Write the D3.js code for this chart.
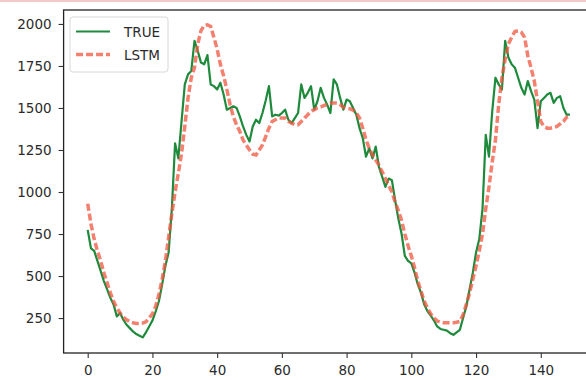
<!DOCTYPE html>
<html>
<head>
<meta charset="utf-8">
<script src="https://cdn.jsdelivr.net/npm/d3@7"></script>
<style>
  body { margin: 0; background: #fff; }
  svg { display: block; font-family: "DejaVu Sans", sans-serif; }
</style>
</head>
<body>
<div id="chart"></div>
<script>
// values, one per time step (0..149)
const trueValues = [
  775, 665, 650, 590, 530, 470, 420, 370, 330, 260,
  280, 240, 210, 190, 170, 155, 145, 135, 165, 200,
  235, 290, 350, 450, 560, 640, 900, 1290, 1200, 1420,
  1640, 1700, 1720, 1900, 1840, 1770, 1760, 1815, 1640, 1630,
  1610, 1650, 1580, 1490, 1500, 1510, 1500, 1450, 1390, 1340,
  1300, 1390, 1430, 1410, 1470, 1545, 1630, 1450, 1460, 1455,
  1470, 1490, 1430, 1410, 1440, 1470, 1640, 1560, 1590, 1630,
  1490, 1540, 1620, 1560, 1520, 1470, 1670, 1640, 1560, 1490,
  1550, 1540, 1500, 1460, 1380, 1320, 1210, 1260, 1200, 1270,
  1150, 1090, 1030, 1080, 1070, 950, 840, 750, 620, 590,
  575, 520, 450, 400, 330, 290, 265, 235, 200, 185,
  180, 175, 160, 150, 165, 180, 250, 320, 420, 520,
  640, 720, 900, 1340, 1210, 1480, 1680, 1640, 1610, 1900,
  1800, 1760, 1740, 1680, 1620, 1580, 1660, 1600, 1550, 1380,
  1540, 1560, 1580, 1590, 1530, 1560, 1570, 1500, 1460, 1460
];
const lstmValues = [
  930, 810, 720, 650, 590, 520, 460, 400, 350, 310,
  280, 255, 240, 228, 222, 218, 218, 220, 228, 250,
  275, 320, 390, 480, 590, 730, 870, 1000, 1110, 1230,
  1390, 1560, 1680, 1740, 1880, 1960, 1990, 1995, 1985, 1920,
  1850, 1760, 1690, 1610, 1520, 1450, 1400, 1360, 1310, 1280,
  1250, 1225, 1220, 1250, 1280, 1330, 1380, 1420, 1430, 1440,
  1440, 1440, 1420, 1410, 1400, 1400, 1420, 1440, 1460, 1480,
  1490, 1500, 1505, 1515, 1520, 1528, 1530, 1530, 1520, 1505,
  1498, 1495, 1488, 1470, 1440, 1380, 1310, 1260, 1220, 1190,
  1160, 1120, 1080, 1040, 1000, 940, 890, 830, 750, 680,
  620, 550, 470, 410, 350, 310, 275, 250, 232, 225,
  222, 222, 222, 222, 225, 230, 270, 330, 400, 480,
  560, 650, 750, 900, 1030, 1180, 1310, 1520, 1680, 1790,
  1880, 1920, 1955, 1960, 1950, 1920, 1810, 1740, 1660, 1540,
  1420, 1390, 1380, 1380, 1385, 1390, 1405, 1420, 1445, 1450
];
const xTicks = [0, 20, 40, 60, 80, 100, 120, 140];
const yTicks = [250, 500, 750, 1000, 1250, 1500, 1750, 2000];
const seriesNames = ["TRUE", "LSTM"];

const width = 586, height = 380;
const plot = {left: 63.6, top: 10, right: 594, bottom: 353};

const svg = d3.select("#chart").append("svg")
    .attr("width", width)
    .attr("height", height);

// faint page edge from the scan
svg.append("line")
    .attr("x1", 0).attr("x2", width)
    .attr("y1", 1).attr("y2", 1)
    .attr("stroke", "#f6c9c9")
    .attr("stroke-width", 2);

const xScale = d3.scaleLinear()
    .domain([-7.45, 156.45])
    .range([plot.left, plot.right]);

const yScale = d3.scaleLinear()
    .domain([42, 2083])
    .range([plot.bottom, plot.top]);

svg.append("clipPath").attr("id", "clip")
  .append("rect")
    .attr("x", plot.left).attr("y", plot.top)
    .attr("width", plot.right - plot.left)
    .attr("height", plot.bottom - plot.top);

const line = d3.line()
    .x((d, i) => xScale(i))
    .y(d => yScale(d));

const g = svg.append("g").attr("clip-path", "url(#clip)");

g.append("path")
    .datum(trueValues)
    .attr("fill", "none")
    .attr("stroke", "#1d8a3c")
    .attr("stroke-width", 2.2)
    .attr("stroke-linejoin", "round")
    .attr("d", line);

g.append("path")
    .datum(lstmValues)
    .attr("fill", "none")
    .attr("stroke", "#f0553f")
    .attr("stroke-opacity", 0.75)
    .attr("stroke-width", 3.5)
    .attr("stroke-dasharray", "7,3")
    .attr("d", line);

// frame (right spine falls off the cropped picture)
svg.append("rect")
    .attr("x", plot.left).attr("y", plot.top)
    .attr("width", plot.right - plot.left)
    .attr("height", plot.bottom - plot.top)
    .attr("fill", "none")
    .attr("stroke", "#222")
    .attr("stroke-width", 1.3);

const xAxis = svg.append("g")
    .attr("transform", "translate(0," + plot.bottom + ")")
    .call(d3.axisBottom(xScale).tickValues(xTicks).tickFormat(d3.format("d"))
      .tickSize(5).tickPadding(7));

const yAxis = svg.append("g")
    .attr("transform", "translate(" + plot.left + ",0)")
    .call(d3.axisLeft(yScale).tickValues(yTicks).tickFormat(d3.format("d"))
      .tickSize(5).tickPadding(7));

[xAxis, yAxis].forEach(a => {
  a.select(".domain").remove();
  a.selectAll("line").attr("stroke", "#333").attr("stroke-width", 1.1);
  a.selectAll("text")
    .style("font-family", "'DejaVu Sans', sans-serif")
    .style("font-size", "13.5px")
    .attr("fill", "#2a2a2a");
});

// legend
const legend = svg.append("g").attr("transform", "translate(70,17)");
legend.append("rect")
    .attr("width", 98).attr("height", 55)
    .attr("rx", 3)
    .attr("fill", "#fff")
    .attr("fill-opacity", 0.8)
    .attr("stroke", "#d8d8d8");

legend.append("line")
    .attr("x1", 6).attr("x2", 40)
    .attr("y1", 14.5).attr("y2", 14.5)
    .attr("stroke", "#1d8a3c")
    .attr("stroke-width", 2.2);

legend.append("line")
    .attr("x1", 6).attr("x2", 40)
    .attr("y1", 37.5).attr("y2", 37.5)
    .attr("stroke", "#f0553f")
    .attr("stroke-opacity", 0.75)
    .attr("stroke-width", 3.5)
    .attr("stroke-dasharray", "7,3");

legend.selectAll(".label")
    .data(seriesNames)
    .enter()
    .append("text")
    .attr("x", 54)
    .attr("y", (d, i) => 19.5 + i * 23)
    .style("font-size", "13.5px")
    .attr("fill", "#2a2a2a")
    .text(d => d);
</script>
</body>
</html>
